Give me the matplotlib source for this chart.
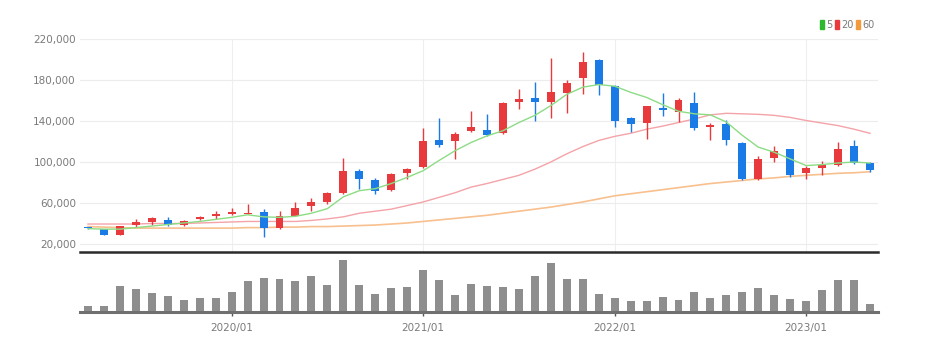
import numpy as np
import pandas as pd
import matplotlib
matplotlib.use("Agg")
import matplotlib.pyplot as plt
from matplotlib.patches import Patch
from matplotlib.ticker import FuncFormatter

plt.rcParams['font.family'] = ['Liberation Sans Narrow', 'DejaVu Sans']

# monthly candles, 2019/04 .. 2023/05
months = pd.period_range('2019-04', periods=50, freq='M')

opens = [36.5, 34.5, 29.0, 38.5, 41.0, 43.5, 38.8, 44.0, 46.9, 49.0,
         49.5, 51.5, 35.5, 47.5, 57.0, 61.0, 69.5, 91.0, 82.0, 72.5,
         89.0, 95.0, 121.0, 120.5, 130.0, 131.5, 128.5, 158.5, 162.5, 159.0,
         167.5, 182.0, 200.0, 174.5, 143.0, 138.0, 153.0, 149.0, 158.0, 134.0,
         137.0, 119.0, 83.0, 104.0, 112.5, 89.0, 94.0, 97.5, 116.0, 99.5]
closes = [35.5, 29.0, 37.5, 41.5, 45.0, 38.5, 42.5, 46.5, 49.4, 51.0,
          50.5, 36.0, 47.0, 55.5, 60.5, 70.0, 91.0, 83.0, 72.0, 88.5,
          93.0, 120.5, 117.0, 127.5, 134.0, 126.5, 158.0, 161.0, 159.0, 168.5,
          177.5, 198.0, 175.5, 140.0, 137.0, 154.5, 151.0, 160.5, 133.0, 136.0,
          121.5, 83.0, 102.5, 111.0, 87.0, 94.0, 97.5, 113.0, 99.0, 92.5]
highs = [37.0, 35.0, 38.0, 44.5, 46.5, 46.5, 43.5, 47.5, 52.0, 55.5,
         59.5, 54.0, 52.0, 60.5, 65.0, 71.0, 104.0, 93.0, 84.0, 89.5,
         94.5, 133.0, 143.0, 129.0, 150.0, 146.5, 159.0, 171.0, 178.0, 201.0,
         180.0, 207.5, 200.5, 175.0, 143.5, 155.0, 167.5, 162.5, 168.5, 138.0,
         140.5, 119.5, 105.5, 116.0, 113.0, 96.5, 101.0, 120.0, 121.5, 100.0]
lows = [35.0, 28.5, 29.0, 36.5, 39.0, 38.0, 38.0, 43.5, 44.5, 48.0,
        49.0, 26.5, 35.0, 47.0, 52.5, 59.0, 69.0, 74.0, 68.5, 72.0,
        83.5, 94.0, 114.5, 103.0, 129.0, 125.0, 127.0, 152.0, 140.0, 143.0,
        147.5, 166.0, 165.5, 134.5, 129.0, 122.5, 145.0, 139.0, 131.5, 121.5,
        117.0, 82.5, 82.5, 100.0, 85.5, 83.0, 87.5, 96.5, 98.0, 90.0]

# moving averages as drawn
ma5 = [35.0, 34.5, 34.5, 36.0, 37.5, 39.0, 40.5, 42.0, 44.0, 46.0,
       48.5, 46.5, 46.0, 47.0, 50.0, 54.5, 66.0, 72.0, 74.0, 79.0,
       85.0, 91.5, 101.5, 111.0, 119.0, 125.5, 130.5, 138.5, 145.5, 155.0,
       166.0, 173.0, 175.5, 174.0, 168.0, 163.0, 156.0, 149.5, 147.0, 146.0,
       139.0, 126.0, 114.5, 109.5, 103.0, 96.5, 97.5, 99.0, 100.0, 99.0]
ma20 = [39.5, 39.5, 39.5, 39.5, 40.0, 40.0, 40.0, 40.5, 41.0, 41.5,
        42.0, 42.0, 42.0, 42.0, 43.0, 44.5, 46.5, 50.0, 52.0, 54.0,
        57.5, 61.0, 65.5, 70.0, 75.5, 79.0, 83.0, 87.0, 93.0, 100.0,
        108.0, 115.0, 121.0, 125.0, 128.0, 132.0, 135.0, 138.5, 142.0, 146.0,
        147.5, 147.0, 146.5, 145.5, 143.5, 140.5, 138.0, 135.5, 132.0, 128.0]
ma60 = [37.0, 36.5, 36.0, 35.5, 35.5, 35.5, 35.5, 35.5, 35.5, 35.5,
        36.0, 36.0, 36.5, 36.5, 37.0, 37.0, 37.5, 38.0, 38.5, 39.5,
        40.5, 42.0, 43.5, 45.0, 46.5, 48.0, 50.0, 52.0, 54.0, 56.0,
        58.5, 61.0, 64.0, 67.0, 69.0, 71.0, 73.0, 75.0, 77.0, 79.0,
        80.5, 82.0, 83.5, 84.5, 86.0, 87.0, 88.0, 89.0, 89.5, 90.5]

volume = [6.0, 6.0, 26.0, 23.3, 19.0, 15.7, 11.7, 13.7, 14.3, 20.3,
          31.0, 34.0, 33.3, 31.0, 36.3, 27.0, 52.0, 27.0, 18.3, 23.7,
          25.0, 42.0, 31.7, 17.3, 28.0, 26.3, 25.3, 23.0, 36.3, 48.7,
          32.7, 32.7, 18.3, 14.0, 11.0, 11.0, 15.0, 12.0, 19.7, 13.7,
          17.3, 20.3, 23.7, 17.3, 12.7, 11.0, 21.7, 31.7, 31.7, 7.7]

UP = '#e8393d'
DOWN = '#1a7ae6'

x = np.arange(len(months))
o = np.array(opens) * 1000
c = np.array(closes) * 1000
h = np.array(highs) * 1000
l = np.array(lows) * 1000
colors = [UP if cc >= oo else DOWN for oo, cc in zip(o, c)]

fig = plt.figure(figsize=(9.3, 3.5), dpi=100)
ax = fig.add_axes([80/930, 1-252/350, 798/930, 213/350])
axv = fig.add_axes([80/930, 1-312/350, 798/930, 60/350])

# candles
ax.vlines(x, l, h, colors=colors, linewidth=1, zorder=3)
body_bottom = np.minimum(o, c)
body_height = np.maximum(np.abs(c - o), 600)
ax.bar(x, body_height, bottom=body_bottom, width=0.5, color=colors, zorder=4)

ax.plot(x, np.array(ma5) * 1000, color='#8cdc84', linewidth=1, zorder=5)
ax.plot(x, np.array(ma20) * 1000, color='#f4a3a8', linewidth=1, zorder=2)
ax.plot(x, np.array(ma60) * 1000, color='#f8c08e', linewidth=1.2, zorder=2)

ax.set_xlim(-0.5, len(x) - 0.5)
ax.set_ylim(12200, 220000)
ax.set_yticks(np.arange(20000, 220001, 40000))
ax.yaxis.set_major_formatter(FuncFormatter(lambda v, p: f"{int(v):,}"))
ax.tick_params(axis='y', length=0, labelsize=7.5, labelcolor='#7a7a7a', pad=3)
ax.grid(axis='y', color='#ececec', linewidth=0.8)
year_ticks = [i for i, m in enumerate(months) if m.month == 1]
for i in year_ticks:
    ax.axvline(i, color='#efefef', linewidth=0.8, zorder=0)
ax.set_xticks([])
for s in ax.spines.values():
    s.set_visible(False)

# volume
axv.bar(x, volume, width=0.5, color='#8e8e8e')
axv.set_xlim(-0.5, len(x) - 0.5)
axv.set_ylim(0, 60)
axv.set_yticks([])
axv.set_xticks(year_ticks)
axv.set_xticklabels([m.strftime('%Y/%m') for m in months[year_ticks]])
axv.tick_params(axis='x', length=3, width=1, color='#555555', labelsize=7.5, labelcolor='#7a7a7a', pad=5)
for s in ['left', 'right']:
    axv.spines[s].set_visible(False)
axv.spines['top'].set_color('#2b2b2b')
axv.spines['top'].set_linewidth(1.8)
axv.spines['bottom'].set_color('#707070')
axv.spines['bottom'].set_linewidth(2.2)

handles = [Patch(color='#2db82d', label='5'),
           Patch(color='#e8393d', label='20'),
           Patch(color='#f39a3c', label='60')]
fig.legend(handles=handles, loc='upper right', bbox_to_anchor=(879/930, 1-15/350),
           ncol=3, frameon=False, fontsize=7, handlelength=0.4, handleheight=1.0,
           handletextpad=0.2, columnspacing=0.3, labelcolor='#7a7a7a', borderpad=0)

fig.savefig('out.png', dpi=100)
